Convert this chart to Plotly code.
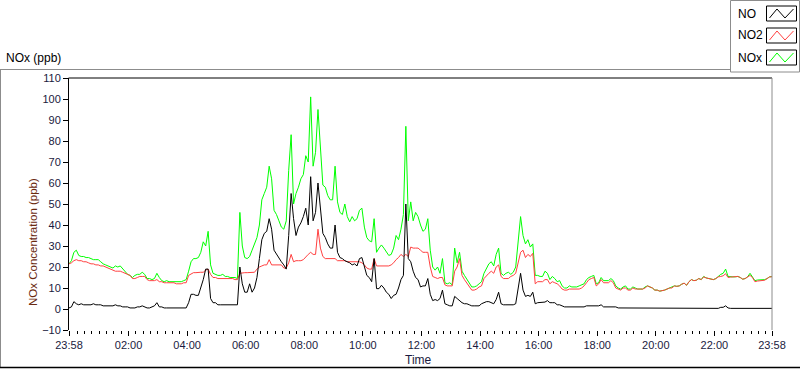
import plotly.graph_objects as go
import pandas as pd

# ---------------- data (values every 5 minutes from 23:58) ----------------
minutes = list(range(0, 1441, 5))

nox_ppb = [
    21.5, 23, 27, 28, 25.5, 25, 25, 24.5, 24.5, 24, 23.5, 23.5, 23.5, 22.5, 21.5, 21, 20.5, 20, 19.5, 20.5,
    20, 20.5, 19, 18, 16.5, 16, 15, 16, 16.5, 16.5, 17.5, 16.5, 14.5, 14.5, 14, 14.5, 17, 15, 13.5, 13,
    13.5, 13, 13, 13, 13, 13, 13, 13.5, 14,
    18, 22.5, 24, 24, 24.5, 27, 32, 30, 37, 21, 17, 16.5, 16, 16, 16.5, 15.5, 15.5, 15, 15, 15,
    14.5, 46, 30, 24.5, 24, 25, 28, 31, 34, 40, 52, 55, 58, 68, 62, 47, 45, 42, 39, 38,
    42, 66, 83, 50, 55, 58, 62, 64, 73,
    70, 101, 68, 74.6, 95, 76, 59, 58, 54, 52, 52, 68, 51, 46, 45, 50, 44, 41.5, 44, 42,
    43, 47, 48, 39, 34, 32.5, 32, 43, 27, 29, 30.5, 29, 27, 25.5, 26, 29, 35, 33, 38, 45,
    87, 42, 51, 42, 46, 44, 40, 37,
    38, 43, 28, 20, 18.5, 20, 17, 24, 12.5, 12, 12.5, 11.5, 29, 22, 27, 18, 16, 14, 12.5, 10.5,
    10.5, 11, 12, 13, 17, 19.5, 21.5, 22.5, 20.5, 26, 29, 17, 16, 17, 17.5, 16.5, 17.5, 20, 34, 44,
    35, 31, 33, 29.5, 31, 16, 16, 15.5, 15.5,
    18, 17, 14, 15.5, 14.5, 13, 13.5, 11, 10, 10, 11, 10.5, 10.5, 10.5, 11, 11.5, 12, 14, 15, 15.5,
    16, 12, 12.5, 15, 13.5, 13.5, 13.5, 14.5, 13.5, 11, 10, 9.5, 10.5, 11, 9.5, 9.5, 10.5, 10, 9.5, 9.5,
    9.5, 10.5, 11, 10.5, 10, 9, 9, 8.5,
    8.7, 9, 9.5, 10, 10.2, 11, 10.8, 11, 11.8, 12.3, 11.3, 13, 14, 13.5, 13.7, 14.5, 14, 15.5, 14.8, 14.5,
    14, 14, 14.5, 15.5, 16.5, 17, 19, 15.5, 15.3, 15.3, 15.3, 15.5, 15, 14.2, 14.5, 15.3, 17, 15.5, 13.5, 13.8,
    13.8, 14, 14, 14.5, 15.3, 15.5,
]

no2_ppb = [
    21.5, 22, 23, 23.5, 23, 23, 22.5, 22.5, 22, 21.5, 21.5, 21, 21, 20.5, 20.5, 20, 19.5, 19, 18.5, 18,
    18, 18, 17.5, 17, 16.5, 16, 14.5, 14.5, 15, 15.5, 15.5, 15.5, 14, 13.5, 13.5, 13.5, 14, 13, 13, 12.5,
    12.5, 12.5, 12.5, 12.5, 12, 12, 12, 12.5, 12.5,
    16, 16.5, 17.3, 17.3, 17.5, 17.5, 17.5, 18.5, 19, 16.5, 15, 15, 14.5, 14.5, 14.5, 14.5, 14.5, 14.5, 14.5, 14,
    14, 17, 17.3, 17.3, 17.3, 17.3, 17.5, 17.5, 19, 20, 20.5, 21, 21, 23.5, 21, 21, 21, 21, 21, 19.5,
    19.5, 22, 26, 22.5, 23, 23, 23, 23.5, 25,
    26, 27, 26, 26, 38, 29, 25, 24, 24, 24, 24, 24, 23, 23, 23, 23, 22.5, 22.5, 22.5, 22.5,
    22.5, 22.5, 22, 21, 19.5, 19, 19, 24, 20.5, 20.5, 20.5, 20.5, 20.5, 20.5, 21, 22, 23.5, 24.5, 26, 25,
    26, 25, 29.5, 29, 29, 29, 28, 27,
    27, 27, 20, 15.5, 15, 14.5, 15, 15, 11.5, 11, 11, 11, 18, 20, 24, 16, 14, 12.5, 11, 9,
    9, 9.5, 10.5, 11, 14.5, 16, 17, 18, 17, 20, 21, 15.5, 14.5, 14.5, 14.5, 15.5, 16, 17, 22, 27,
    28, 24.5, 26, 25, 26.5, 12, 13, 13, 13,
    14, 14, 12, 13, 12.5, 12, 11, 9.5, 9, 9, 9.5, 9.5, 9.5, 9.5, 9.5, 10, 11, 12.5, 14, 14.5,
    15, 11, 12, 14, 12.5, 12.5, 12.5, 13.5, 12.5, 10, 9.5, 9, 10, 10, 9, 9, 10, 9.5, 9.5, 9.5,
    9.5, 10, 11, 10.5, 10, 9, 9, 8.5,
    8.7, 9, 9.5, 10, 10, 11, 10.8, 11, 11.8, 12.3, 11.3, 13, 14, 13.5, 13.7, 14.5, 14, 15.3, 14.8, 14.5,
    14, 14, 14.5, 15.3, 15.5, 15.8, 16.8, 15, 15.2, 15.3, 15.3, 15.5, 15, 14.2, 14.5, 15.3, 16, 15, 13, 13.3,
    13.5, 13.5, 13.7, 14.5, 15.3, 15.3,
]

no_ppb = [
    0.5, 1, 3.5, 2.5, 2, 2.5, 2, 2, 2, 2, 2.5, 2, 2, 2, 1.5, 1.5, 1.5, 1.5, 1.5, 2,
    1.5, 1.5, 1, 1, 1, 0.5, 0.5, 0.5, 1, 1, 1.5, 1, 0.5, 0.5, 1, 1.5, 3, 1, 1, 0.5,
    0.5, 0.5, 0.5, 0.5, 0.5, 0.5, 0.5, 0.5, 0.5,
    3, 7, 7, 6.5, 6.5, 10, 14, 19, 19, 5, 3, 3, 2, 2, 2, 2, 2, 2, 2, 2,
    2, 20, 12, 8, 8, 12, 8, 10, 15, 24, 33, 36, 37, 43, 38, 28, 26, 24, 22.5, 21,
    19, 35, 55, 43, 35, 39, 41, 44, 48,
    40, 63, 42, 46, 60, 46, 36, 34, 31, 29, 29, 40, 27, 24.5, 24, 23, 22.5, 22, 21, 21.5,
    20.5, 24, 24.5, 20, 16, 15, 13, 24, 9.7, 9.7, 11.3, 10, 8, 7, 5, 6.5, 7, 10, 14, 16,
    50, 24, 22.5, 18, 15, 14, 10.5, 11,
    11, 14.5, 7, 4, 4.5, 4, 5, 9, 2.5, 2, 1.5, 1.5, 6, 5, 4, 3, 2.5, 2.5, 2, 1.5,
    1.5, 1.5, 1.5, 2.5, 3, 3.5, 3.5, 3, 2.5, 4.5, 8, 2.5, 2, 2, 2, 2, 2, 2.5, 10, 17,
    9, 6, 6.5, 6, 8, 2.5, 3, 3, 3,
    3.3, 4, 3, 3, 3, 2, 2, 1.5, 1, 1, 1, 1, 1, 1, 1, 1, 1, 1.5, 1.5, 1.5,
    1.5, 1.5, 1.5, 2, 1, 1, 1, 1, 1, 1, 0.5, 0.5, 0.5, 0.5, 0.5, 0.5, 0.5, 0.5, 0.5, 0.5,
    0.5, 0.5, 0.5, 0.5, 0.5, 0.5, 0.5, 0.5,
    0.3, 0.3, 0.3, 0.3, 0.3, 0.3, 0.3, 0.3, 0.3, 0.3, 0.3, 0.3, 0.3, 0.6, 0.3, 0.3, 0.3, 0.3, 0.3, 0.3,
    0.3, 0.3, 0.3, 0.3, 0.8, 0.8, 1.5, 0.5, 0.3, 0.3, 0.3, 0.6, 0.3, 0.3, 0.3, 0.3, 0.6, 0.3, 0.3, 0.3,
    0.3, 0.3, 0.3, 0.3, 0.3, 0.3,
]

series_names = ["NO", "NO2", "NOx"]
series_colors = ["#000000", "#ff4040", "#00ff00"]
tick_labels = ["23:58", "02:00", "04:00", "06:00", "08:00", "10:00", "12:00",
               "14:00", "16:00", "18:00", "20:00", "22:00", "23:58"]
tick_minutes = [0, 122, 242, 362, 482, 602, 722, 842, 962, 1082, 1202, 1322, 1440]

start = pd.Timestamp("2024-01-01 23:58")
times = [start + pd.Timedelta(minutes=m) for m in minutes]
tick_times = [start + pd.Timedelta(minutes=m) for m in tick_minutes]

FONT = "Liberation Sans"
W, H = 800, 369
L, R, T, B = 69, 772, 78, 330

fig = go.Figure()
data = {"NO": no_ppb, "NO2": no2_ppb, "NOx": nox_ppb}
for name in ["NOx", "NO2", "NO"]:
    col = series_colors[series_names.index(name)]
    fig.add_trace(go.Scatter(x=times, y=data[name], mode="lines", name=name,
                             line=dict(color=col, width=1), showlegend=False,
                             hoverinfo="skip"))

tickcol = "#1a1a40"
fig.update_layout(
    width=W, height=H,
    margin=dict(l=L, r=W - R, t=T, b=H - B, pad=0),
    paper_bgcolor="white", plot_bgcolor="white",
    font=dict(family=FONT, size=11, color=tickcol),
    xaxis=dict(
        range=[tick_times[0], tick_times[-1]],
        tickmode="array", tickvals=tick_times, ticktext=tick_labels,
        ticks="outside", ticklen=5, tickwidth=1, tickcolor="black",
        showgrid=False, zeroline=False, showline=False,
        tickfont=dict(family=FONT, size=11, color=tickcol),
        minor=dict(ticks="outside", ticklen=3, tickwidth=1, tickcolor="black",
                   dtick=15 * 60 * 1000, tick0="2024-01-02 00:00", showgrid=False),
    ),
    yaxis=dict(
        range=[-10, 110], dtick=10, tick0=0,
        ticks="outside", ticklen=5, tickwidth=1, tickcolor="black",
        showgrid=False, zeroline=False, showline=True, linecolor="black", linewidth=1,
        tickfont=dict(family=FONT, size=11, color=tickcol),
    ),
)


def px(x):
    return (x - L) / (R - L)


def py(y):
    return (B - y) / (B - T)


shapes = []
# panel frame lines
shapes.append(dict(type="line", xref="paper", yref="paper", x0=px(0), x1=px(730), y0=py(69.5), y1=py(69.5),
                   line=dict(color="#8c8c8c", width=1)))
shapes.append(dict(type="line", xref="paper", yref="paper", x0=px(0.5), x1=px(0.5), y0=py(69.5), y1=py(368),
                   line=dict(color="#8c8c8c", width=1)))
shapes.append(dict(type="line", xref="paper", yref="paper", x0=px(0), x1=px(800), y0=py(367.5), y1=py(367.5),
                   line=dict(color="black", width=1.5)))
# plot area frame (top black, right gray)
shapes.append(dict(type="line", xref="paper", yref="paper", x0=px(L - 0.5), x1=px(R), y0=py(T), y1=py(T),
                   line=dict(color="black", width=1)))
shapes.append(dict(type="line", xref="paper", yref="paper", x0=px(R), x1=px(R), y0=py(T), y1=py(B),
                   line=dict(color="#8c8c8c", width=1)))
# legend box
shapes.append(dict(type="rect", xref="paper", yref="paper", x0=px(730.5), x1=px(799.5), y0=py(0.5), y1=py(72),
                   line=dict(color="#8c8c8c", width=1), fillcolor="white"))

annotations = []
leg_rows = [13.5, 35.5, 57.5]
for i, name in enumerate(series_names):
    yc = leg_rows[i]
    annotations.append(dict(text=name, xref="paper", yref="paper", x=px(736), y=py(yc),
                            xanchor="left", yanchor="middle", showarrow=False,
                            font=dict(family=FONT, size=12, color="black")))
    shapes.append(dict(type="rect", xref="paper", yref="paper", x0=px(766.5), x1=px(796.5),
                       y0=py(yc - 7.5), y1=py(yc + 7.5), line=dict(color="black", width=1),
                       fillcolor="white"))
    pts = [(769.5, yc + 4.5), (777, yc - 4.5), (785, yc + 4.5), (793.5, yc - 4.5)]
    path = "M " + " L ".join(f"{px(a):.5f},{py(b):.5f}" for a, b in pts)
    shapes.append(dict(type="path", xref="paper", yref="paper", path=path,
                       line=dict(color=series_colors[i], width=1)))

annotations.append(dict(text="NOx (ppb)", xref="paper", yref="paper", x=px(4), y=py(58),
                        xanchor="left", yanchor="middle", showarrow=False,
                        font=dict(family=FONT, size=12, color="black")))
annotations.append(dict(text="NOx Concentration (ppb)", xref="paper", yref="paper", x=px(33), y=py(242),
                        xanchor="center", yanchor="middle", textangle=-90, showarrow=False,
                        font=dict(family=FONT, size=11.5, color="#6a2a10")))
annotations.append(dict(text="Time", xref="paper", yref="paper", x=px(418), y=py(360),
                        xanchor="center", yanchor="middle", showarrow=False,
                        font=dict(family=FONT, size=12, color="#1a1a40")))

fig.update_layout(shapes=shapes, annotations=annotations)
fig.write_html("out.html", config={"displayModeBar": False},
               post_script="document.body.style.margin='0';document.body.style.padding='0';")
